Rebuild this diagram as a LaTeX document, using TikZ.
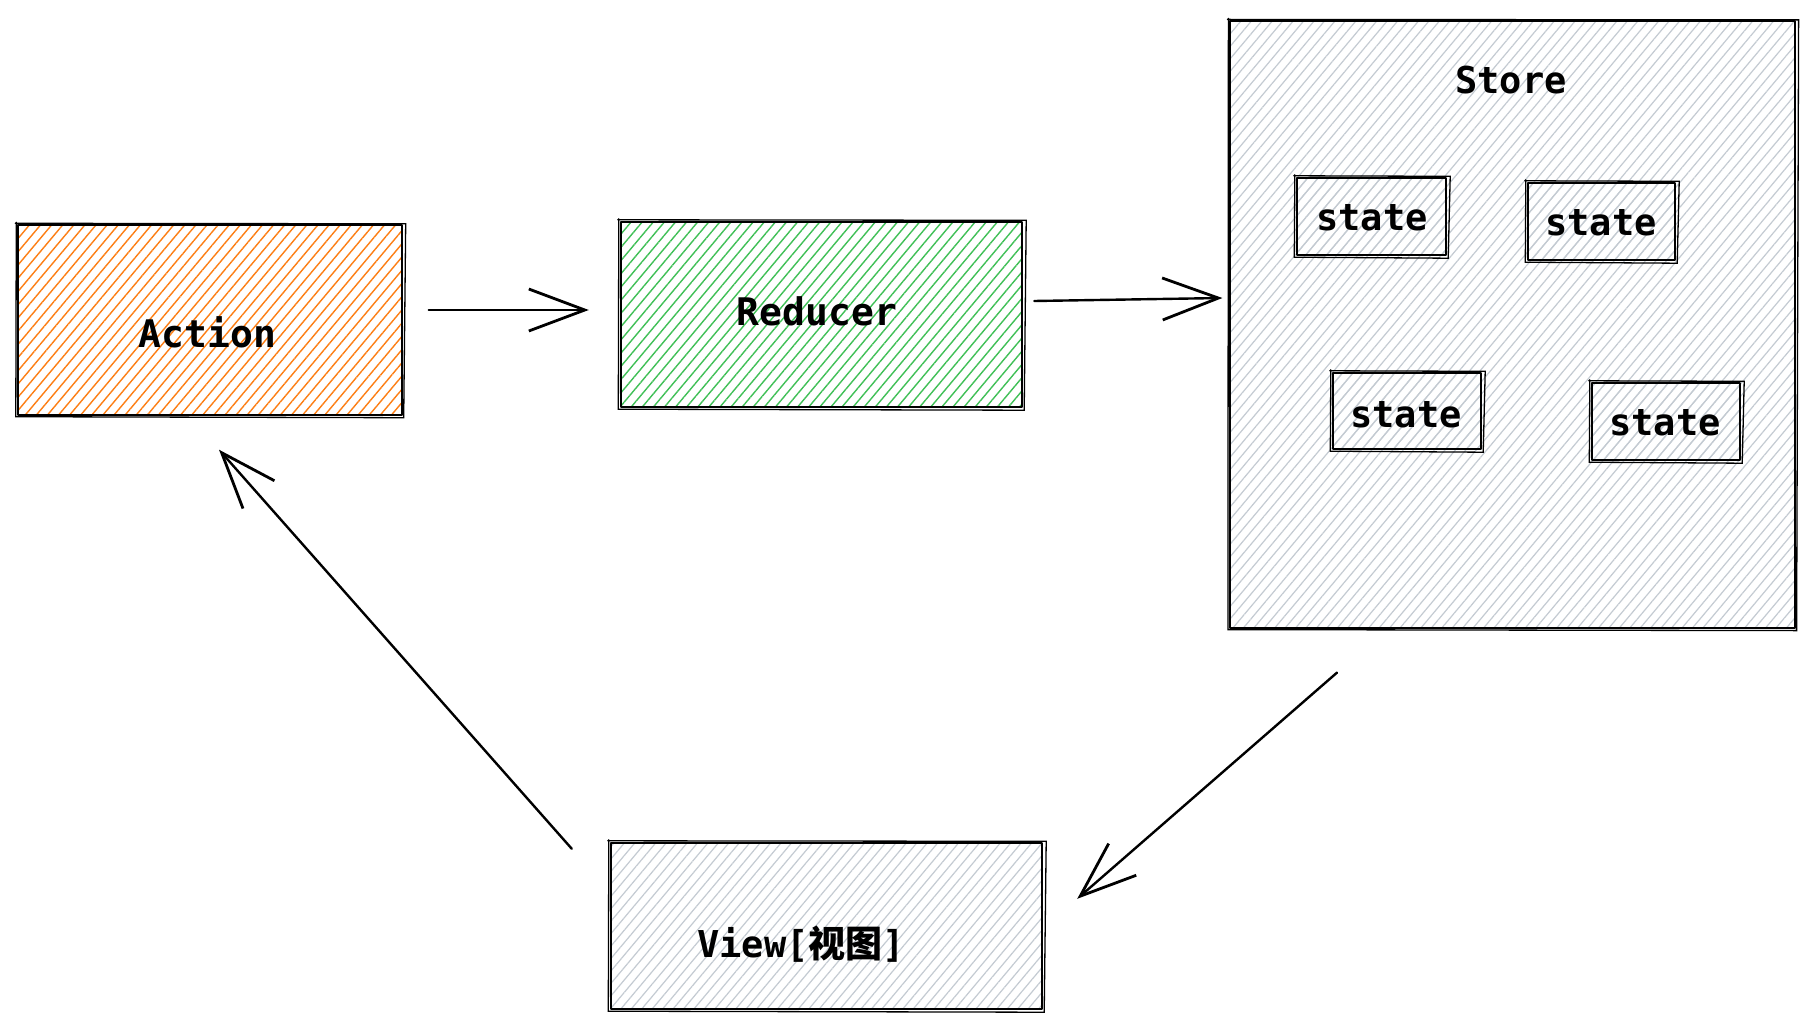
\documentclass[tikz,border=0pt]{standalone}
\usepackage{fontspec}
\newfontfamily\mono{DejaVu Sans Mono}
\newfontfamily\cjk{Noto Sans CJK SC}
\usetikzlibrary{arrows.meta,patterns.meta}
\definecolor{hOrange}{HTML}{FD7E14}
\definecolor{hGreen}{HTML}{40C057}
\definecolor{hGray}{HTML}{C4CBD2}
\tikzset{
  box/.style={draw=black, line width=2.4pt, inner sep=0pt, line join=round},
  hatchO/.style={pattern={Lines[angle=50,distance=8.5pt,line width=1.4pt]}, pattern color=hOrange},
  hatchG/.style={pattern={Lines[angle=50,distance=8.5pt,line width=1.4pt]}, pattern color=hGreen},
  hatchS/.style={pattern={Lines[angle=50,distance=8pt,line width=1.2pt]}, pattern color=hGray},
  skline/.style={draw=black, line width=1.3pt, line cap=round},
  lbl/.style={inner sep=0pt, anchor=base, font=\mono\bfseries\fontsize{38}{44}\selectfont},
  lbls/.style={lbl, font=\mono\bfseries\fontsize{37}{44}\selectfont},
  arr/.style={line width=2.4pt, line cap=round, line join=round,
    -{Straight Barb[length=56pt,width=42pt,line width=2.8pt]}},
}
\newcommand\skbox[1]{\draw[skline] ([shift={(-2pt,1pt)}]#1.north west) -- ([shift={(3pt,0.5pt)}]#1.north east) -- ([shift={(1pt,-2pt)}]#1.south east) -- ([shift={(-1.5pt,-1pt)}]#1.south west) -- ([shift={(-1pt,2pt)}]#1.north west);}
\begin{document}
\begin{tikzpicture}[x=1pt,y=1pt]
\useasboundingbox (0,0) rectangle (1814,-1027);
\fill[white] (0,0) rectangle (1814,-1027);

% boxes
\node[box, hatchO, minimum width=384pt, minimum height=190pt] (action) at (210,-320) {};
\node[box, hatchG, minimum width=401pt, minimum height=185pt] (reducer) at (821.5,-314.5) {};
\node[box, hatchS, minimum width=565pt, minimum height=607pt] (store) at (1512.5,-324.5) {};
\node[box, hatchS, minimum width=149pt, minimum height=77pt] (s1) at (1371.5,-216.5) {};
\node[box, hatchS, minimum width=147pt, minimum height=77pt] (s2) at (1601.5,-221.5) {};
\node[box, hatchS, minimum width=148pt, minimum height=76pt] (s3) at (1407,-411) {};
\node[box, hatchS, minimum width=148pt, minimum height=77pt] (s4) at (1666,-421.5) {};
\node[box, hatchS, minimum width=431pt, minimum height=166pt] (view) at (826.5,-926) {};

\skbox{action}\skbox{reducer}\skbox{store}\skbox{s1}\skbox{s2}\skbox{s3}\skbox{s4}\skbox{view}

% labels
\node[lbl] (tAction) at (207.5,-347) {Action};
\node[lbl] (tReducer) at (817,-325) {Reducer};
\node[lbls] (tStore) at (1511,-94) {Store};
\node[lbls] (t1) at (1372,-230) {state};
\node[lbls] (t2) at (1601,-235) {state};
\node[lbls] (t3) at (1406,-427) {state};
\node[lbls] (t4) at (1665,-435) {state};
\node[lbls] (tView) at (801,-957) {View[{\cjk\bfseries 视图}]};

% connectors
\draw[arr] ([xshift=26pt,yshift=10pt]action.east) -- ([xshift=-31pt,yshift=4.5pt]reducer.west);
\draw[arr] ([xshift=11pt,yshift=13.5pt]reducer.east) -- ([xshift=-7pt,yshift=26.5pt]store.west);
\draw[arr] ([xshift=-175.5pt,yshift=-44pt]store.south) -- ([xshift=34pt,yshift=-57pt]view.north east);
\draw[arr] ([xshift=-38pt,yshift=-7pt]view.north west) -- ([xshift=9pt,yshift=-34pt]action.south);
\end{tikzpicture}
\end{document}
